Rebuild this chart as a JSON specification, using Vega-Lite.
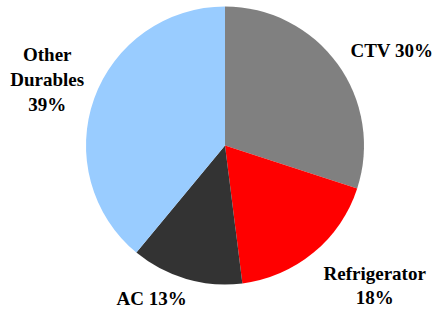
{
  "$schema": "https://vega.github.io/schema/vega-lite/v6.json",
  "width": 450,
  "height": 291,
  "autosize": "none",
  "padding": {"left": 0, "top": 0, "right": 0, "bottom": 19},
  "background": "white",
  "view": {"stroke": null},
  "data": {"values": [
    {"category": "CTV", "share": 30, "label": "CTV 30%", "rank": 1},
    {"category": "Refrigerator", "share": 18, "label": "Refrigerator\n18%", "rank": 2},
    {"category": "AC", "share": 13, "label": "AC 13%", "rank": 3},
    {"category": "Other Durables", "share": 39, "label": "Other\nDurables\n39%", "rank": 4}
  ]},
  "encoding": {
    "theta": {"field": "share", "type": "quantitative", "stack": true},
    "order": {"field": "rank", "type": "quantitative"}
  },
  "layer": [
    {
      "mark": {"type": "arc", "outerRadius": 139},
      "encoding": {
        "color": {
          "field": "category", "type": "nominal",
          "scale": {"domain": ["CTV", "Refrigerator", "AC", "Other Durables"], "range": ["#808080", "#FF0000", "#333333", "#99CCFF"]},
          "legend": null
        }
      }
    },
    {
      "mark": {"type": "text", "radius": 190, "dx": 13, "dy": 17, "font": "'Liberation Serif', 'Times New Roman', serif", "fontWeight": "bold", "fontSize": 19, "lineBreak": "\n", "lineHeight": 24, "align": "center", "baseline": "middle", "color": "black"},
      "encoding": {"text": {"condition": {"test": "datum.category === 'CTV'", "field": "label"}, "value": ""}}
    },
    {
      "mark": {"type": "text", "radius": 205, "dx": 19, "dy": -29, "font": "'Liberation Serif', 'Times New Roman', serif", "fontWeight": "bold", "fontSize": 19, "lineBreak": "\n", "lineHeight": 24, "align": "center", "baseline": "middle", "color": "black"},
      "encoding": {"text": {"condition": {"test": "datum.category === 'Refrigerator'", "field": "label"}, "value": ""}}
    },
    {
      "mark": {"type": "text", "radius": 170, "dx": -26, "dy": -10, "font": "'Liberation Serif', 'Times New Roman', serif", "fontWeight": "bold", "fontSize": 19, "lineBreak": "\n", "lineHeight": 24, "align": "center", "baseline": "middle", "color": "black"},
      "encoding": {"text": {"condition": {"test": "datum.category === 'AC'", "field": "label"}, "value": ""}}
    },
    {
      "mark": {"type": "text", "radius": 190, "dx": 1, "dy": -26, "font": "'Liberation Serif', 'Times New Roman', serif", "fontWeight": "bold", "fontSize": 19, "lineBreak": "\n", "lineHeight": 25, "align": "center", "baseline": "middle", "color": "black"},
      "encoding": {"text": {"condition": {"test": "datum.category === 'Other Durables'", "field": "label"}, "value": ""}}
    }
  ]
}
